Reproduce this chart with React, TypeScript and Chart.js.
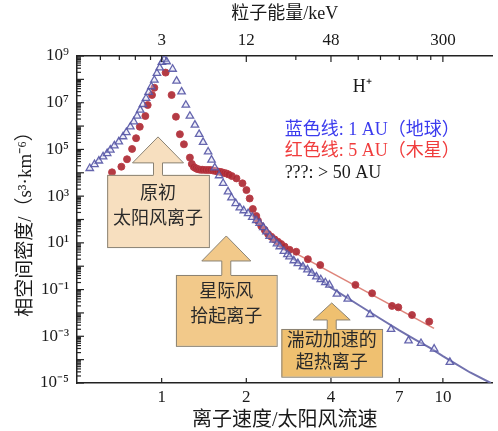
import React, { useEffect, useRef } from "react";
import { Chart, registerables } from "chart.js";

Chart.register(...registerables);

// ---------- data ----------
// speed = ion speed / solar-wind speed; density given as log10 of phase-space density
const blueSpeed = [
  0.555, 0.577, 0.598, 0.619, 0.64, 0.657, 0.679, 0.704, 0.729, 0.749, 0.774, 0.796, 0.818, 0.839, 0.858, 0.88,
  0.899, 0.919, 0.942, 0.962, 0.984, 1.002, 1.02, 1.042, 1.094, 1.13, 1.177, 1.219, 1.26, 1.313, 1.359, 1.404,
  1.463, 1.504, 1.545, 1.601, 1.654, 1.722, 1.771, 1.834, 1.896, 1.958, 2.03, 2.1, 2.17, 2.23, 2.3, 2.36, 2.42,
  2.5, 2.57, 2.63, 2.72, 2.8, 2.85, 2.95, 3.05, 3.18, 3.3, 3.42, 3.55, 3.68, 3.82, 3.95, 4.2, 4.59, 5.51, 6.54,
  7.55, 8.36, 9.31, 10.59,
];
const blueLogDensity = [
  4.19, 4.36, 4.51, 4.69, 4.83, 4.98, 5.16, 5.33, 5.55, 5.73, 5.97, 6.19, 6.43, 6.69, 6.93, 7.19,
  7.45, 7.69, 7.97, 8.26, 8.5, 8.73, 8.85, 8.76, 8.44, 7.93, 7.47, 6.9, 6.43, 6.05, 5.65, 5.31,
  4.9, 4.55, 4.22, 3.88, 3.55, 3.19, 2.93, 2.69, 2.5, 2.38, 2.26, 2.1, 1.96, 1.84, 1.66, 1.48, 1.28,
  1.12, 0.96, 0.84, 0.64, 0.5, 0.41, 0.24, 0.12, -0.02, -0.15, -0.3, -0.45, -0.57, -0.7, -0.8, -1.19, -1.4, -2.06, -2.7,
  -3.19, -3.3, -3.54, -4.11,
];
const redSpeed = [
  0.666, 0.719, 0.753, 0.785, 0.811, 0.836, 0.875, 0.892, 0.924, 0.942, 1.033, 1.085, 1.124, 1.161, 1.2, 1.26,
  1.28, 1.3, 1.32, 1.34, 1.36, 1.38, 1.4, 1.43, 1.46, 1.49, 1.52, 1.55, 1.58, 1.61, 1.64, 1.67, 1.7, 1.73,
  1.776, 1.845, 1.938, 2.002, 2.056, 2.11, 2.17, 2.2, 2.26, 2.325, 2.39, 2.455, 2.52, 2.591, 2.66, 2.737, 2.851,
  3.01, 3.311, 3.663, 4.887, 5.601, 6.595, 6.943, 7.765, 8.942,
];
const redLogDensity = [
  4.02, 4.26, 4.58, 5.02, 5.48, 5.97, 6.43, 6.9, 7.33, 7.64, 8.29, 7.33, 6.4, 5.65, 5.22, 4.65,
  4.38, 4.25, 4.2, 4.16, 4.14, 4.13, 4.13, 4.12, 4.12, 4.12, 4.1, 4.08, 4.06, 4.04, 4.02, 3.99, 3.97, 3.93,
  3.86, 3.76, 3.55, 3.26, 2.9, 2.45, 2.15, 1.95, 1.72, 1.55, 1.38, 1.26, 1.15, 1.05, 0.95, 0.84, 0.7,
  0.62, 0.3, 0.05, -0.8, -1.16, -1.7, -1.76, -2.09, -2.37,
];
const blueFitSpeed = [2.9, 3.5, 4.0, 5.0, 6.0, 7.0, 8.0, 9.0, 10.0, 11.0, 12.5, 14.8];
const blueFitLogDensity = [0.38, -0.35, -0.92, -1.65, -2.25, -2.75, -3.15, -3.5, -3.85, -4.15, -4.55, -5.0];
const redFitSpeed = [3.0, 9.3];
const redFitLogDensity = [0.55, -2.66];

// axes
const speedMin = 0.5;
const speedMax = 15;
const densityMinExp = -5;
const densityMaxExp = 9;
const bottomTicks = [1, 2, 4, 7, 10];
const energyPerSpeedSq = 3; // keV at speed 1
const topMajorTicks = [3, 12, 48, 300];
const topMinorTicks = [1.1, 1.5, 1.95, 2.5, 27, 75, 108, 147, 197, 246];
const yLabelExps = [-5, -3, -1, 1, 3, 5, 7, 9];

const xTitle = "离子速度/太阳风流速";
const topTitle = "粒子能量/keV";
const yTitle = "相空间密度/（s³·km⁻⁶）";

const legendLines = [
  { text: "蓝色线: 1 AU（地球）", color: "#3b3bee" },
  { text: "红色线: 5 AU（木星）", color: "#f03c3c" },
  { text: "???: > 50 AU", color: "#1a1a1a" },
];
const ionLabel = "H⁺";

const boxes = [
  { lines: ["原初", "太阳风离子"], v0: 0.64, v1: 1.472, top: 3.91, bottom: 0.82, fill: "#f7dfbf", arrow: [51, 26, 9, 12], textTop: 19, gap: 25 },
  { lines: ["星际风", "拾起离子"], v0: 1.124, v1: 2.564, top: -0.375, bottom: -3.41, fill: "#f2c98a", arrow: [49, 25, 9, 14], textTop: 17, gap: 25 },
  { lines: ["湍动加速的", "超热离子"], v0: 2.665, v1: 6.077, top: -2.687, bottom: -4.73, fill: "#efc070", arrow: [37, 17, 9, 9], textTop: 12, gap: 22 },
];

const SERIF = "'Liberation Serif', 'Times New Roman', 'Noto Sans CJK SC', serif";

const supMap: Record<string, string> = {
  "-": "⁻", "0": "⁰", "1": "¹", "2": "²", "3": "³", "4": "⁴", "5": "⁵", "6": "⁶", "7": "⁷", "8": "⁸", "9": "⁹",
};
const sup = (n: number) => String(n).split("").map((c) => supMap[c]).join("");

const pts = (xs: number[], ls: number[]) => xs.map((x, i) => ({ x, y: Math.pow(10, ls[i]) }));

const decorPlugin = {
  id: "decor",
  afterDraw(chart: any) {
    const { ctx, chartArea } = chart;
    const xs = chart.scales.x;
    const ys = chart.scales.y;
    const xt = chart.scales.x2;
    ctx.save();
    ctx.strokeStyle = "#222";
    ctx.lineWidth = 1.2;
    // y ticks
    for (let e = densityMinExp; e <= densityMaxExp; e++) {
      for (let k = 1; k <= 9; k++) {
        if (e === densityMaxExp && k > 1) break;
        const py = ys.getPixelForValue(k * Math.pow(10, e));
        const len = k === 1 ? 7 : 4;
        ctx.beginPath();
        ctx.moveTo(chartArea.left, py);
        ctx.lineTo(chartArea.left + len, py);
        ctx.stroke();
      }
    }
    // bottom ticks
    for (const v of bottomTicks) {
      const px = xs.getPixelForValue(v);
      ctx.beginPath();
      ctx.moveTo(px, chartArea.bottom);
      ctx.lineTo(px, chartArea.bottom - 5);
      ctx.stroke();
    }
    // top ticks
    for (const v of topMajorTicks) {
      const px = xt.getPixelForValue(v);
      ctx.beginPath();
      ctx.moveTo(px, chartArea.top);
      ctx.lineTo(px, chartArea.top + 6);
      ctx.stroke();
    }
    for (const v of topMinorTicks) {
      const px = xt.getPixelForValue(v);
      ctx.beginPath();
      ctx.moveTo(px, chartArea.top);
      ctx.lineTo(px, chartArea.top + 4);
      ctx.stroke();
    }

    // annotation boxes with arrows
    for (const b of boxes) {
      const x0 = xs.getPixelForValue(b.v0);
      const x1 = xs.getPixelForValue(b.v1);
      const y0 = ys.getPixelForValue(Math.pow(10, b.top));
      const y1 = ys.getPixelForValue(Math.pow(10, b.bottom));
      const cx = (x0 + x1) / 2;
      const [hw, hh, sw, sh] = b.arrow;
      ctx.fillStyle = b.fill;
      ctx.strokeStyle = "#8a8273";
      ctx.lineWidth = 1;
      ctx.fillRect(x0, y0, x1 - x0, y1 - y0);
      ctx.strokeRect(x0 + 0.5, y0 + 0.5, x1 - x0, y1 - y0);
      ctx.beginPath();
      ctx.moveTo(cx - sw / 2, y0 + 1);
      ctx.lineTo(cx - sw / 2, y0 - sh);
      ctx.lineTo(cx - hw / 2, y0 - sh);
      ctx.lineTo(cx, y0 - sh - hh);
      ctx.lineTo(cx + hw / 2, y0 - sh);
      ctx.lineTo(cx + sw / 2, y0 - sh);
      ctx.lineTo(cx + sw / 2, y0 + 1);
      ctx.closePath();
      ctx.fill();
      ctx.beginPath();
      ctx.moveTo(cx - sw / 2, y0);
      ctx.lineTo(cx - sw / 2, y0 - sh);
      ctx.lineTo(cx - hw / 2, y0 - sh);
      ctx.lineTo(cx, y0 - sh - hh);
      ctx.lineTo(cx + hw / 2, y0 - sh);
      ctx.lineTo(cx + sw / 2, y0 - sh);
      ctx.lineTo(cx + sw / 2, y0);
      ctx.stroke();
      ctx.fillStyle = "#2a2a2a";
      ctx.font = `18px ${SERIF}`;
      ctx.textAlign = "center";
      ctx.textBaseline = "middle";
      b.lines.forEach((t, i) => ctx.fillText(t, cx, y0 + b.textTop + i * b.gap));
    }

    // legend texts
    ctx.font = `18px ${SERIF}`;
    ctx.textBaseline = "middle";
    ctx.textAlign = "center";
    ctx.fillStyle = "#1a1a1a";
    ctx.fillText(ionLabel, xs.getPixelForValue(5.17), ys.getPixelForValue(Math.pow(10, 7.67)));
    ctx.textAlign = "left";
    const lx = xs.getPixelForValue(2.737);
    const ly = [5.83, 4.9, 3.98];
    legendLines.forEach((l, i) => {
      ctx.fillStyle = l.color;
      ctx.fillText(l.text, lx, ys.getPixelForValue(Math.pow(10, ly[i])));
    });
    ctx.restore();
  },
};

export default function App() {
  const ref = useRef<HTMLCanvasElement | null>(null);
  useEffect(() => {
    if (!ref.current) return;
    const tickFont = { family: SERIF, size: 17 };
    const chart = new Chart(ref.current, {
      type: "scatter",
      data: {
        datasets: [
          {
            label: "1 AU",
            data: pts(blueSpeed, blueLogDensity),
            pointStyle: "triangle",
            pointRadius: 4.3,
            borderWidth: 1.3,
            borderColor: "rgba(85,85,165,0.9)",
            backgroundColor: "rgba(215,215,240,0.4)",
          },
          {
            label: "5 AU",
            data: pts(redSpeed, redLogDensity),
            pointStyle: "circle",
            pointRadius: 3.5,
            borderWidth: 1,
            borderColor: "rgba(185,60,70,0.9)",
            backgroundColor: "rgba(172,42,52,0.92)",
          },
          {
            label: "fit 1 AU",
            data: pts(blueFitSpeed, blueFitLogDensity),
            showLine: true,
            pointRadius: 0,
            borderColor: "rgba(105,105,170,0.95)",
            borderWidth: 2,
          },
          {
            label: "fit 5 AU",
            data: pts(redFitSpeed, redFitLogDensity),
            showLine: true,
            pointRadius: 0,
            borderColor: "rgba(220,125,115,0.95)",
            borderWidth: 1.6,
          },
        ],
      },
      options: {
        responsive: false,
        animation: false,
        devicePixelRatio: 1,
        layout: { padding: { left: 0, top: 0, right: 5, bottom: 0 } },
        plugins: { legend: { display: false }, tooltip: { enabled: false } },
        scales: {
          x: {
            type: "logarithmic",
            position: "bottom",
            min: speedMin,
            max: speedMax,
            afterBuildTicks: (s: any) => {
              s.ticks = bottomTicks.map((v) => ({ value: v }));
            },
            afterFit: (s: any) => {
              s.height = 48;
            },
            grid: { display: false, drawTicks: false },
            border: { display: true, color: "#222", width: 1.5 },
            ticks: {
              autoSkip: false,
              maxRotation: 0,
              padding: 4,
              color: "#1a1a1a",
              font: tickFont,
              callback: (v: any) => String(v),
            },
            title: {
              display: true,
              text: xTitle,
              color: "#1a1a1a",
              font: { family: SERIF, size: 20 },
              padding: { top: 0, bottom: -2 },
            },
          },
          x2: {
            type: "logarithmic",
            position: "top",
            min: energyPerSpeedSq * speedMin * speedMin,
            max: energyPerSpeedSq * speedMax * speedMax,
            afterBuildTicks: (s: any) => {
              s.ticks = topMajorTicks.map((v) => ({ value: v }));
            },
            afterFit: (s: any) => {
              s.height = 56;
            },
            grid: { display: false, drawTicks: false },
            border: { display: true, color: "#222", width: 1.5 },
            ticks: {
              autoSkip: false,
              maxRotation: 0,
              padding: 5,
              color: "#1a1a1a",
              font: tickFont,
              callback: (v: any) => String(v),
            },
            title: {
              display: true,
              text: topTitle,
              color: "#1a1a1a",
              font: { family: SERIF, size: 18 },
              padding: { top: 3, bottom: 0 },
            },
          },
          y: {
            type: "logarithmic",
            position: "left",
            min: Math.pow(10, densityMinExp),
            max: Math.pow(10, densityMaxExp),
            afterBuildTicks: (s: any) => {
              s.ticks = yLabelExps.map((e) => ({ value: Math.pow(10, e) }));
            },
            afterFit: (s: any) => {
              s.width = 77;
            },
            grid: { display: false, drawTicks: false },
            border: { display: true, color: "#222", width: 1.5 },
            ticks: {
              autoSkip: false,
              padding: 8,
              color: "#1a1a1a",
              font: tickFont,
              callback: (v: any) => "10" + sup(Math.round(Math.log10(v))),
            },
            title: {
              display: true,
              text: yTitle,
              color: "#1a1a1a",
              font: { family: SERIF, size: 19 },
              padding: { top: 15, bottom: 0 },
            },
          },
        },
      },
      plugins: [decorPlugin],
    } as any);
    return () => chart.destroy();
  }, []);
  return (
    <div style={{ position: "absolute", left: 0, top: 0, width: 498, height: 431, background: "#fff" }}>
      <canvas ref={ref} width={498} height={431} style={{ display: "block" }} />
    </div>
  );
}
